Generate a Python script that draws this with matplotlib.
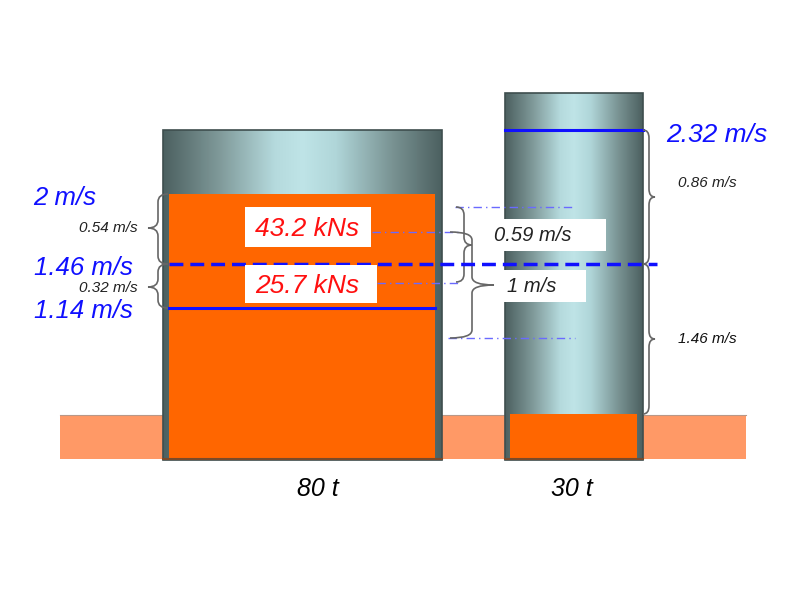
import numpy as np
import matplotlib.pyplot as plt
from matplotlib.path import Path
from matplotlib.patches import PathPatch, Rectangle
from matplotlib.colors import LinearSegmentedColormap

# values shown in the picture
masses = ['80 t', '30 t']
speeds_big = ['2 m/s', '1.46 m/s', '1.14 m/s']
speed_small = '2.32 m/s'
diffs_big = ['0.54 m/s', '0.32 m/s']
diffs_small = ['0.86 m/s', '1.46 m/s']
impulses = ['43.2 kNs', '25.7 kNs']
diffs_mid = ['0.59 m/s', '1 m/s']

BLUE = '#1010ff'
ORANGE = '#ff6600'
GROUND = '#ff9966'
GREY = '#666666'
FONT = 'Liberation Sans'

cyl = LinearSegmentedColormap.from_list(
    'cyl', [(0, '#4c6060'), (0.2, '#7f9999'), (0.4, '#b5dadd'), (0.5, '#bfe4e7'),
            (0.62, '#b0d6d9'), (0.82, '#7a9494'), (1, '#4c6060')])


def cylinder(ax, x0, x1, y0, y1):
    grad = np.linspace(0, 1, 256).reshape(1, -1)
    ax.imshow(grad, cmap=cyl, extent=(x0, x1, y1, y0), aspect='auto', zorder=2)
    ax.add_patch(Rectangle((x0, y0), x1 - x0, y1 - y0, fill=False,
                           ec='#3e4e4e', lw=1.2, zorder=3))


def brace(ax, x, y0, y1, d, h, ym=None):
    # curly bracket between y0 and y1, tip pointing along d
    if ym is None:
        ym = (y0 + y1) / 2
    r = min(8, (y1 - y0) / 5)
    xm = x + d * h
    verts = [(x, y0), (xm, y0), (xm, y0 + r), (xm, ym - r), (xm, ym), (x + 2 * d * h, ym),
             (xm, ym), (xm, ym + r), (xm, y1 - r), (xm, y1), (x, y1)]
    codes = [Path.MOVETO, Path.CURVE3, Path.CURVE3, Path.LINETO, Path.CURVE3, Path.CURVE3,
             Path.CURVE3, Path.CURVE3, Path.LINETO, Path.CURVE3, Path.CURVE3]
    ax.add_patch(PathPatch(Path(verts, codes), fill=False, ec=GREY, lw=1.2, zorder=6))


fig = plt.figure(figsize=(8, 6), dpi=100)
ax = fig.add_axes([0, 0, 1, 1])
ax.set_xlim(0, 800)
ax.set_ylim(600, 0)
ax.axis('off')

# ground
ax.add_patch(Rectangle((60, 415), 686, 44, fc=GROUND, ec='none', zorder=1))
ax.plot([60, 746], [415, 415], color='#b89888', lw=0.8, zorder=1)

# big cylinder
cylinder(ax, 163, 442, 130, 460)
ax.add_patch(Rectangle((169, 194), 266, 266, fc=ORANGE, ec='none', zorder=4))
ax.plot([163, 442], [459, 459], color='#7a4a2a', lw=1.5, zorder=4)

# small cylinder
cylinder(ax, 505, 643, 93, 460)
ax.add_patch(Rectangle((510, 414), 127, 46, fc=ORANGE, ec='none', zorder=4))
ax.plot([505, 643], [459, 459], color='#7a4a2a', lw=1.5, zorder=4)

# speed lines
ax.plot([169, 435], [308, 308], color=BLUE, lw=2.2, zorder=5)
ax.plot([505, 643], [130, 130], color=BLUE, lw=2.2, zorder=5)
ax.plot([169, 657], [264, 264], color=BLUE, lw=2.5, ls=(0, (4, 2)), zorder=7)

# dash-dot helper lines
dd = dict(color='#6a6aff', lw=1, ls=(0, (6, 3, 1, 3)), zorder=6)
ax.plot([372, 460], [232, 232], **dd)
ax.plot([377, 458], [283, 283], **dd)
ax.plot([455, 575], [207, 207], **dd)
ax.plot([448, 575], [338, 338], **dd)

# braces
brace(ax, 168, 194, 264, -1, 10, ym=228)
brace(ax, 168, 264, 308, -1, 10, ym=287)
brace(ax, 643, 130, 264, 1, 6, ym=197)
brace(ax, 643, 264, 414, 1, 6, ym=339)
brace(ax, 456, 207, 282, 1, 8, ym=245)
brace(ax, 450, 232, 338, 1, 22, ym=285)

# white boxes
ax.add_patch(Rectangle((245, 207), 126, 40, fc='white', ec='none', zorder=8))
ax.add_patch(Rectangle((245, 265), 132, 38, fc='white', ec='none', zorder=8))
ax.add_patch(Rectangle((487, 219), 119, 32, fc='white', ec='none', zorder=8))
ax.add_patch(Rectangle((497, 270), 89, 32, fc='white', ec='none', zorder=8))

tx = dict(family=FONT, style='italic', zorder=9)
ax.text(255, 236, impulses[0], color='#ff1010', fontsize=19, ha='left', va='baseline', **tx)
ax.text(255, 293, impulses[1], color='#ff1010', fontsize=19, ha='left', va='baseline', **tx)
ax.text(494, 241, diffs_mid[0], color='#222222', fontsize=14.5, ha='left', va='baseline', **tx)
ax.text(507, 292, diffs_mid[1], color='#222222', fontsize=14.5, ha='left', va='baseline', **tx)

# speed labels
ax.text(33, 205, speeds_big[0], color=BLUE, fontsize=18.5, ha='left', va='baseline', **tx)
ax.text(34, 275, speeds_big[1], color=BLUE, fontsize=18.5, ha='left', va='baseline', **tx)
ax.text(34, 318, speeds_big[2], color=BLUE, fontsize=18.5, ha='left', va='baseline', **tx)
ax.text(666, 142, speed_small, color=BLUE, fontsize=19, ha='left', va='baseline', **tx)

ax.text(138, 228, diffs_big[0], color='#222222', fontsize=11, ha='right', va='center', **tx)
ax.text(138, 288, diffs_big[1], color='#222222', fontsize=11, ha='right', va='center', **tx)
ax.text(678, 183, diffs_small[0], color='#222222', fontsize=11, ha='left', va='center', **tx)
ax.text(678, 339, diffs_small[1], color='#111111', fontsize=11, ha='left', va='center', **tx)

# masses
ax.text(318, 496, masses[0], color='black', fontsize=18, ha='center', va='baseline', **tx)
ax.text(572, 496, masses[1], color='black', fontsize=18, ha='center', va='baseline', **tx)

fig.savefig('out.png', dpi=100)
